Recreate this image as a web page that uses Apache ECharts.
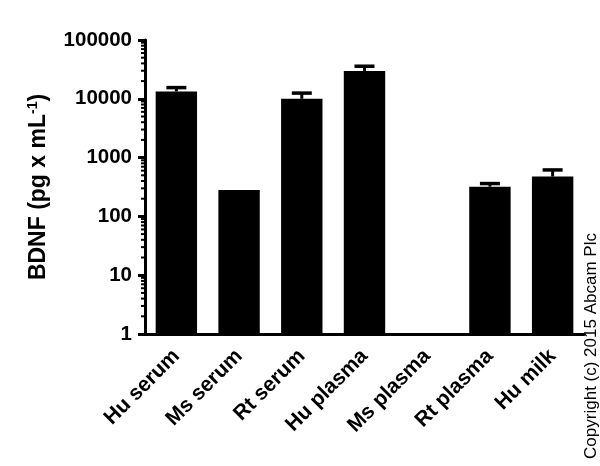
<!DOCTYPE html>
<html>
<head>
<meta charset="utf-8">
<script src="https://cdn.jsdelivr.net/npm/echarts@6/dist/echarts.min.js"></script>
<style>html,body{margin:0;padding:0;background:#fff}#c{width:600px;height:466px}</style>
</head>
<body>
<div id="c"></div>
<script>
var categories = ['Hu serum', 'Ms serum', 'Rt serum', 'Hu plasma', 'Ms plasma', 'Rt plasma', 'Hu milk'];
var means = [13300, 280, 10000, 29800, null, 320, 476];
var upperErr = [15500, null, 12500, 35800, null, 362, 617];
var yTickValues = [1, 10, 100, 1000, 10000, 100000];
var minorMultipliers = [2, 3, 4, 5, 6, 7, 8, 9];
var decades = [1, 10, 100, 1000, 10000];

var FONT = "'Liberation Sans', Arial, sans-serif";
var minorTicks = [];
decades.forEach(function (d) { minorMultipliers.forEach(function (m) { minorTicks.push([0, m * d]); }); });

var errData = [];
means.forEach(function (v, i) { if (v != null && upperErr[i] != null) errData.push([i, v, upperErr[i]]); });

var chart = echarts.init(document.getElementById('c'));
chart.setOption({
  animation: false,
  grid: { left: 145, right: 16, top: 40, bottom: 132 },
  xAxis: {
    type: 'category',
    data: categories,
    axisLine: { lineStyle: { color: '#000', width: 3 } },
    axisTick: { alignWithLabel: true, length: 7, lineStyle: { color: '#000', width: 3 } },
    axisLabel: { rotate: 45, color: '#000', fontSize: 21, fontWeight: 'bold', fontFamily: FONT, margin: 19, interval: 0 }
  },
  yAxis: {
    type: 'log',
    logBase: 10,
    min: 1,
    max: 100000,
    name: '{a|BDNF (pg x mL}{s|-1}{a|)}',
    nameLocation: 'middle',
    nameGap: 94,
    nameTextStyle: {
      rich: {
        a: { fontSize: 23, fontWeight: 'bold', fontFamily: FONT, color: '#000' },
        s: { fontSize: 14, fontWeight: 'bold', fontFamily: FONT, color: '#000', padding: [0, 0, 11, 0] }
      }
    },
    splitLine: { show: false },
    axisLine: { show: true, lineStyle: { color: '#000', width: 3 } },
    axisTick: { show: true, length: 7, lineStyle: { color: '#000', width: 3 } },
    axisLabel: {
      color: '#000', fontSize: 20.5, fontWeight: 'bold', fontFamily: FONT, margin: 13,
      formatter: function (v) { return yTickValues.indexOf(v) >= 0 ? String(v) : ''; }
    }
  },
  series: [
    {
      type: 'bar',
      data: means,
      barWidth: '66%',
      itemStyle: { color: '#000' }
    },
    {
      type: 'custom',
      data: errData,
      z: 3,
      renderItem: function (params, api) {
        var base = api.coord([api.value(0), api.value(1)]);
        var top = api.coord([api.value(0), api.value(2)]);
        var half = 10;
        return {
          type: 'group',
          children: [
            { type: 'line', shape: { x1: base[0], y1: base[1], x2: top[0], y2: top[1] }, style: { stroke: '#000', lineWidth: 3 } },
            { type: 'line', shape: { x1: top[0] - half, y1: top[1], x2: top[0] + half, y2: top[1] }, style: { stroke: '#000', lineWidth: 3.5 } }
          ]
        };
      }
    },
    {
      type: 'custom',
      data: minorTicks,
      z: 3,
      silent: true,
      renderItem: function (params, api) {
        var x = params.coordSys.x;
        var p = api.coord([0, api.value(1)]);
        return { type: 'line', shape: { x1: x - 4, y1: p[1], x2: x, y2: p[1] }, style: { stroke: '#000', lineWidth: 2 } };
      }
    }
  ],
  graphic: [
    {
      type: 'text',
      x: 591, y: 346,
      rotation: Math.PI / 2,
      style: { text: 'Copyright (c) 2015 Abcam Plc', fontSize: 17, fontFamily: FONT, fill: '#000', align: 'center', verticalAlign: 'middle' }
    }
  ]
});
</script>
</body>
</html>
